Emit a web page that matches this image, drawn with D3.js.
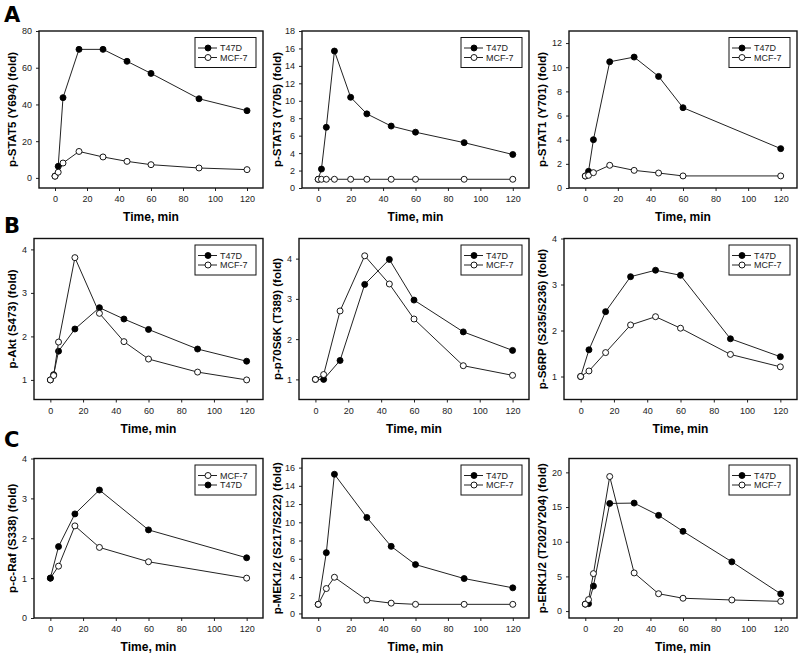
<!DOCTYPE html>
<html>
<head>
<meta charset="utf-8">
<script src="https://cdn.jsdelivr.net/npm/d3@7"></script>
<style>
  body { margin: 0; background: #fff; }
  svg { display: block; font-family: "Liberation Sans", Arial, sans-serif; }
</style>
</head>
<body>
<div id="chart"></div>
<script>
// ---- data (time in min, fold change) ----
var stat5Time = [0, 2, 5, 15, 30, 45, 60, 90, 120];
var stat5T47D = [1, 6.3, 43.7, 70, 70, 63.5, 56.9, 43.1, 36.6];
var stat5MCF7 = [0.9, 3.1, 8.1, 14.4, 11.4, 9.0, 7.2, 5.4, 4.5];

var stat3Time = [0, 2, 5, 10, 20, 30, 45, 60, 90, 120];
var stat3T47D = [1, 2.17, 6.96, 15.7, 10.4, 8.5, 7.1, 6.4, 5.2, 3.84];
var stat3MCF7 = [1, 1, 1, 1, 1, 1, 1, 1, 1, 1];

var stat1Time = [0, 2, 5, 15, 30, 45, 60, 120];
var stat1T47D = [1, 1.38, 4.0, 10.45, 10.84, 9.24, 6.65, 3.26];
var stat1MCF7 = [0.99, 1.05, 1.27, 1.88, 1.46, 1.24, 1.0, 1.0];

var aktTime = [0, 2, 5, 15, 30, 45, 60, 90, 120];
var aktT47D = [1, 1.12, 1.66, 2.17, 2.66, 2.4, 2.16, 1.71, 1.43];
var aktMCF7 = [1, 1.1, 1.87, 3.81, 2.53, 1.88, 1.48, 1.18, 1.0];

var p70Time = [0, 5, 15, 30, 45, 60, 90, 120];
var p70T47D = [1, 1.0, 1.47, 3.36, 3.98, 2.97, 2.18, 1.72];
var p70MCF7 = [1, 1.12, 2.7, 4.07, 3.37, 2.5, 1.34, 1.1];

var s6Time = [0, 5, 15, 30, 45, 60, 90, 120];
var s6T47D = [1, 1.58, 2.41, 3.17, 3.31, 3.2, 1.82, 1.43];
var s6MCF7 = [1, 1.12, 1.52, 2.12, 2.3, 2.05, 1.48, 1.21];

var rafTime = [0, 5, 15, 30, 60, 120];
var rafMCF7 = [1, 1.3, 2.31, 1.77, 1.41, 1.0];
var rafT47D = [1, 1.79, 2.61, 3.21, 2.21, 1.51];

var mekTime = [0, 5, 10, 30, 45, 60, 90, 120];
var mekT47D = [1, 6.67, 15.27, 10.53, 7.36, 5.36, 3.83, 2.81];
var mekMCF7 = [1, 2.73, 3.97, 1.46, 1.13, 1.0, 1.0, 1.0];

var erkTime = [0, 2, 5, 15, 30, 45, 60, 90, 120];
var erkT47D = [1, 1.07, 3.6, 15.52, 15.57, 13.8, 11.5, 7.1, 2.48];
var erkMCF7 = [1, 1.65, 5.4, 19.4, 5.5, 2.5, 1.85, 1.6, 1.4];

var xTicks = [0, 20, 40, 60, 80, 100, 120];
var yTitles = ["p-STAT5 (Y694) (fold)", "p-STAT3 (Y705) (fold)", "p-STAT1 (Y701) (fold)",
               "p-Akt (S473) (fold)", "p-p70S6K (T389) (fold)", "p-S6RP (S235/S236) (fold)",
               "p-c-Raf (S338) (fold)", "p-MEK1/2 (S217/S222) (fold)", "p-ERK1/2 (T202/Y204) (fold)"];
var yTicks = [[0, 20, 40, 60, 80], d3.range(0, 19, 2), d3.range(0, 13, 2),
              [1, 2, 3, 4], [1, 2, 3, 4], [1, 2, 3, 4],
              [0, 1, 2, 3, 4], d3.range(0, 17, 2), [0, 5, 10, 15, 20]];
var yDomains = [[-5.5, 80], [0, 18], [0, 13],
                [0.55, 4.25], [0.5, 4.5], [0.5, 4],
                [0, 4], [-0.5, 17], [-1, 22]];
var rowLetters = ["A", "B", "C"];

// series per panel, in legend order (later drawn on top)
function series(t, a, b, c, d) { return [{name: a, filled: a == "T47D", t: t, v: b}, {name: c, filled: c == "T47D", t: t, v: d}]; }
var panelSeries = [
  series(stat5Time, "T47D", stat5T47D, "MCF-7", stat5MCF7),
  series(stat3Time, "T47D", stat3T47D, "MCF-7", stat3MCF7),
  series(stat1Time, "T47D", stat1T47D, "MCF-7", stat1MCF7),
  series(aktTime, "T47D", aktT47D, "MCF-7", aktMCF7),
  series(p70Time, "T47D", p70T47D, "MCF-7", p70MCF7),
  series(s6Time, "T47D", s6T47D, "MCF-7", s6MCF7),
  series(rafTime, "MCF-7", rafMCF7, "T47D", rafT47D),
  series(mekTime, "T47D", mekT47D, "MCF-7", mekMCF7),
  series(erkTime, "T47D", erkT47D, "MCF-7", erkMCF7)
];

// ---- layout (frame boxes of each panel) ----
var frames = [
  {l: 39, r: 263, t: 31, b: 188}, {l: 302, r: 529, t: 31, b: 188}, {l: 569, r: 797, t: 31, b: 188},
  {l: 34, r: 263, t: 238.5, b: 399.5}, {l: 299, r: 529, t: 238.5, b: 399.5}, {l: 564, r: 797, t: 238.5, b: 399.5},
  {l: 34, r: 263, t: 458.5, b: 618}, {l: 302, r: 529, t: 458.5, b: 618}, {l: 569, r: 797, t: 458.5, b: 618}
];
var yTitleX = [12, 277, 542];
var letterY = [22, 233, 447];

var svg = d3.select("#chart").append("svg")
  .attr("width", 800)
  .attr("height", 659);

rowLetters.forEach(function(L, i) {
  svg.append("text")
    .attr("x", 4).attr("y", letterY[i])
    .style("font-size", "21px").style("font-weight", "900")
    .style("font-family", "'DejaVu Sans', sans-serif")
    .text(L);
});

frames.forEach(function(f, i) {
  var g = svg.append("g");
  var x = d3.scaleLinear().domain([-10, 130]).range([f.l, f.r]);
  var y = d3.scaleLinear().domain(yDomains[i]).range([f.b, f.t]);

  // axes
  var xa = g.append("g").attr("transform", "translate(0," + f.b + ")")
    .call(d3.axisBottom(x).tickValues(xTicks).tickSize(3).tickSizeOuter(0).tickPadding(5));
  var ya = g.append("g").attr("transform", "translate(" + f.l + ",0)")
    .call(d3.axisLeft(y).tickValues(yTicks[i]).tickFormat(d3.format("d")).tickSize(3).tickSizeOuter(0).tickPadding(4));
  [xa, ya].forEach(function(a) {
    a.select(".domain").remove();
    a.selectAll("text").style("font-size", "9px").style("font-family", "Liberation Sans").attr("fill", "#222");
    a.selectAll("line").attr("stroke", "#222");
  });

  // frame
  g.append("rect")
    .attr("x", f.l).attr("y", f.t)
    .attr("width", f.r - f.l).attr("height", f.b - f.t)
    .attr("fill", "none").attr("stroke", "#111").attr("stroke-width", 1.4);

  // axis titles
  g.append("text")
    .attr("x", (f.l + f.r) / 2).attr("y", f.b + 33)
    .attr("text-anchor", "middle")
    .style("font-size", "12px").style("font-weight", "bold")
    .text("Time, min");
  g.append("text")
    .attr("transform", "translate(" + yTitleX[i % 3] + "," + ((f.t + f.b) / 2) + ") rotate(-90)")
    .attr("dy", "0.35em")
    .attr("text-anchor", "middle")
    .style("font-size", "11.5px").style("font-weight", "bold")
    .text(yTitles[i]);

  var line = d3.line().x(function(d) { return x(d[0]); }).y(function(d) { return y(d[1]); });

  panelSeries[i].forEach(function(s) {
    var pts = d3.zip(s.t, s.v);
    g.append("path").datum(pts)
      .attr("d", line)
      .attr("fill", "none").attr("stroke", "#222").attr("stroke-width", 1);
    g.selectAll(null).data(pts).enter().append("circle")
      .attr("cx", function(d) { return x(d[0]); })
      .attr("cy", function(d) { return y(d[1]); })
      .attr("r", 3)
      .attr("fill", s.filled ? "#000" : "#fff")
      .attr("stroke", "#000").attr("stroke-width", 0.9);
  });

  // legend
  var lw = 61, lh = 30;
  var lg = g.append("g").attr("transform", "translate(" + (f.r - 7 - lw) + "," + (f.t + 6.5) + ")");
  lg.append("rect").attr("width", lw).attr("height", lh)
    .attr("fill", "#fff").attr("stroke", "#111").attr("stroke-width", 1);
  panelSeries[i].forEach(function(s, k) {
    var yy = 10.5 + k * 9.5;
    lg.append("line").attr("x1", 3).attr("x2", 22).attr("y1", yy).attr("y2", yy)
      .attr("stroke", "#222").attr("stroke-width", 1);
    lg.append("circle").attr("cx", 13).attr("cy", yy).attr("r", 3)
      .attr("fill", s.filled ? "#000" : "#fff").attr("stroke", "#000").attr("stroke-width", 0.9);
    lg.append("text").attr("x", 25).attr("y", yy).attr("dy", "0.35em")
      .style("font-size", "9px").attr("fill", "#222")
      .text(s.name);
  });
});
</script>
</body>
</html>
